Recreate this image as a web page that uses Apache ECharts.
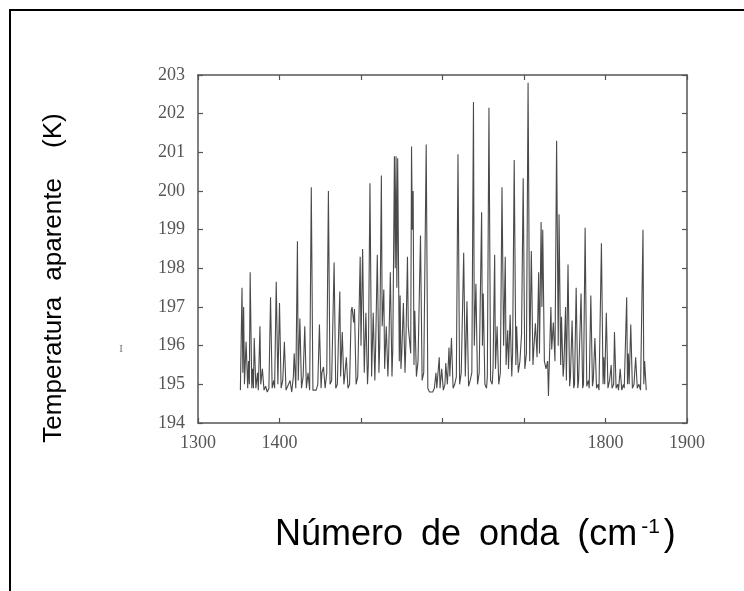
<!DOCTYPE html>
<html>
<head>
<meta charset="utf-8">
<script src="https://cdn.jsdelivr.net/npm/echarts@6/dist/echarts.min.js"></script>
<style>
  html, body { margin: 0; padding: 0; background: #fff; }
  #chart { width: 744px; height: 591px; }
</style>
</head>
<body>
<div id="chart"></div>
<script>
// spectrum: wavenumber (cm-1) and apparent temperature (K)
const wavenumber = [
  1352, 1354, 1355, 1356, 1357, 1359, 1361, 1362, 1363, 1364, 1366, 1367, 1368, 1369, 1371, 1373, 1374, 1376, 1377, 1379,
  1381, 1383, 1385, 1387, 1389, 1391, 1393, 1394, 1396, 1398, 1400, 1402, 1404, 1406, 1408, 1410, 1413, 1415, 1417, 1418,
  1420, 1422, 1423, 1425, 1427, 1429, 1431, 1433, 1435, 1437, 1439, 1441, 1443, 1445, 1447, 1449, 1451, 1452, 1454, 1456,
  1458, 1460, 1462, 1464, 1467, 1469, 1471, 1472, 1474, 1475, 1477, 1479, 1480, 1482, 1484, 1486, 1488, 1489, 1491, 1492,
  1494, 1496, 1499, 1500, 1502, 1504, 1506, 1508, 1509, 1511, 1513, 1515, 1517, 1518, 1520, 1522, 1523, 1525, 1526, 1528,
  1529, 1531, 1533, 1534, 1536, 1538, 1539, 1541, 1542, 1543, 1544, 1545, 1547, 1548, 1549, 1550, 1552, 1554, 1555, 1557,
  1558, 1561, 1562, 1563, 1564, 1565, 1566, 1568, 1570, 1573, 1575, 1577, 1580, 1582, 1584, 1588, 1590, 1592, 1593, 1595,
  1596, 1597, 1599, 1601, 1603, 1604, 1606, 1608, 1609, 1611, 1613, 1615, 1617, 1619, 1621, 1623, 1626, 1628, 1630, 1632,
  1634, 1636, 1638, 1639, 1641, 1643, 1645, 1648, 1649, 1650, 1652, 1654, 1655, 1657, 1659, 1661, 1662, 1664, 1665, 1667,
  1669, 1671, 1673, 1674, 1675, 1677, 1678, 1680, 1681, 1683, 1685, 1686, 1688, 1690, 1691, 1693, 1695, 1697, 1699, 1701,
  1703, 1705, 1707, 1709, 1711, 1712, 1714, 1716, 1718, 1719, 1721, 1722, 1723, 1725, 1727, 1729, 1730, 1731, 1733, 1734,
  1736, 1738, 1740, 1742, 1743, 1745, 1746, 1748, 1749, 1751, 1752, 1754, 1756, 1757, 1759, 1761, 1762, 1764, 1766, 1767,
  1770, 1772, 1773, 1775, 1777, 1779, 1780, 1782, 1784, 1785, 1787, 1789, 1791, 1792, 1795, 1797, 1798, 1799, 1801, 1803,
  1805, 1807, 1808, 1810, 1811, 1813, 1815, 1816, 1818, 1820, 1822, 1823, 1826, 1827, 1828, 1829, 1831, 1833, 1835, 1837,
  1839, 1841, 1843, 1846, 1847, 1848, 1850
];
const temperature = [
  194.85, 197.5, 195.3, 197.0, 195.0, 196.1, 194.9, 195.6, 195.0, 197.9, 194.9, 195.4, 194.9, 196.2, 194.9, 195.3, 194.85, 196.5, 195.0, 195.4,
  194.85, 194.95, 194.8, 194.9, 197.25, 194.9, 195.1, 194.9, 197.65, 195.0, 197.1, 194.9, 195.1, 196.1, 194.85, 194.8, 195.1, 194.8, 195.2, 195.8,
  194.9, 198.7, 195.1, 196.7, 194.9, 195.2, 196.5, 194.9, 195.3, 194.85, 200.1, 194.85, 194.8, 194.85, 195.0, 196.55, 194.9, 195.3, 195.45, 194.9,
  195.3, 200.0, 195.0, 195.1, 198.15, 194.9, 195.0, 195.9, 197.4, 195.2, 196.35, 195.0, 195.2, 195.7, 194.9, 195.0, 196.9, 197.0, 196.6, 196.95,
  195.0, 195.2, 198.3, 196.0, 198.5, 195.3, 196.85, 195.0, 195.5, 200.2, 195.2, 196.85, 195.1, 196.0, 198.35, 195.3, 196.0, 200.4, 196.5, 197.45,
  195.4, 196.5, 195.2, 195.8, 197.9, 195.2, 195.9, 200.9, 198.0, 200.9, 197.5, 200.85, 195.6, 197.3, 195.4, 195.8, 197.1, 195.3, 196.0, 198.3,
  196.5, 195.8, 201.15, 199.0, 200.0, 195.5, 196.9, 195.2, 195.6, 198.85, 195.1, 195.3, 201.2, 194.9, 194.8, 194.8, 194.9, 195.3, 194.9, 194.85,
  195.7, 194.9, 195.4, 194.85, 195.0, 195.55, 195.0, 195.95, 195.2, 196.2, 194.9, 195.0, 195.2, 200.95, 195.0, 195.3, 198.4, 195.2, 197.15, 194.95,
  195.1, 195.3, 202.3, 196.0, 197.6, 195.0, 195.3, 199.45, 196.0, 197.35, 195.0, 194.9, 195.2, 202.15, 195.1, 195.0, 195.4, 198.35, 195.4, 196.5,
  195.0, 195.3, 200.1, 198.05, 196.0, 198.3, 195.5, 196.4, 195.4, 196.8, 195.2, 195.8, 200.8, 195.5, 196.5, 195.3, 195.6, 196.3, 200.33, 195.4,
  195.8, 202.8, 195.6, 198.45, 195.5, 195.9, 196.58, 195.7, 197.9, 195.8, 199.2, 197.0, 199.0, 195.6, 195.4, 195.6, 194.7, 195.5, 197.0, 195.9,
  196.6, 195.6, 201.3, 196.0, 199.4, 195.5, 196.75, 195.2, 195.5, 197.0, 195.1, 198.1, 194.95, 195.2, 196.65, 194.9, 195.0, 197.5, 194.9, 195.1,
  197.35, 194.9, 195.0, 199.05, 194.95, 195.1, 194.9, 197.3, 194.95, 195.1, 196.2, 194.9, 195.0, 194.85, 198.65, 195.0, 195.7, 195.0, 196.85, 194.9,
  195.1, 195.5, 194.9, 195.0, 196.35, 194.9, 195.0, 194.85, 195.4, 194.85, 195.0, 194.9, 197.25, 195.0, 195.8, 195.0, 196.55, 194.9, 195.0, 195.7,
  194.9, 195.0, 194.85, 199.0, 195.0, 195.6, 194.85
];
// the 1500-1700 labels are hidden under a pasted white patch in the scan
const xTickLabels = [1300, 1400, 1800, 1900];
const yTitleWords = ['Temperatura', 'aparente', '(K)'];
const xTitleWords = ['Número', 'de', 'onda', '(cm', '-1', ')'];

const axisColor = '#555';
const tickFont = { fontFamily: 'Liberation Serif', fontSize: 18, color: '#555' };

function frameAxis(extra) {
  return Object.assign({
    type: 'value',
    axisLine: { show: true, onZero: false, lineStyle: { color: axisColor, width: 1.5 } },
    axisTick: { show: true, inside: true, length: 5, lineStyle: { color: axisColor, width: 1.2 } },
    splitLine: { show: false }
  }, extra);
}

const chart = echarts.init(document.getElementById('chart'));
chart.setOption({
  animation: false,
  backgroundColor: '#fff',
  grid: { left: 198, top: 75, right: 57, bottom: 168 },
  xAxis: [
    frameAxis({
      position: 'bottom', min: 1300, max: 1900, interval: 100,
      axisLabel: Object.assign({
        margin: 11, showMinLabel: true, showMaxLabel: true,
        formatter: v => (xTickLabels.indexOf(v) >= 0 ? String(v) : '')
      }, tickFont)
    }),
    frameAxis({ position: 'top', min: 1300, max: 1900, interval: 100, axisLabel: { show: false } })
  ],
  yAxis: [
    frameAxis({
      position: 'left', min: 194, max: 203, interval: 1,
      axisLabel: Object.assign({ margin: 13, showMinLabel: true, showMaxLabel: true }, tickFont)
    }),
    frameAxis({ position: 'right', min: 194, max: 203, interval: 1, axisLabel: { show: false } })
  ],
  series: [{
    type: 'line',
    data: wavenumber.map((w, i) => [w, temperature[i]]),
    showSymbol: false,
    lineStyle: { color: '#4a4a4a', width: 1.1 },
    silent: true
  }],
  graphic: [
    // outer frame of the slide
    { type: 'rect', shape: { x: 10, y: 10, width: 900, height: 900 },
      style: { fill: 'none', stroke: '#000', lineWidth: 2 } },
    { type: 'text', x: 54, y: 278, rotation: Math.PI / 2,
      style: {
        text: '{w|' + yTitleWords[0] + '}{v|' + yTitleWords[1] + '}{e|' + yTitleWords[2] + '}',
        align: 'center', verticalAlign: 'middle',
        rich: {
          w: { font: '26px "Liberation Sans"', fill: '#000', padding: [0, 16, 0, 0] },
          v: { font: '26px "Liberation Sans"', fill: '#000', padding: [0, 30, 0, 0] },
          e: { font: '26px "Liberation Sans"', fill: '#000' }
        }
      } },
    { type: 'text', x: 275, y: 535,
      style: {
        text: xTitleWords.slice(0, 3).map(w => '{w|' + w + '}').join('') +
          '{c|' + xTitleWords[3] + '}{s|' + xTitleWords[4] + '}{e|' + xTitleWords[5] + '}',
        verticalAlign: 'middle',
        rich: {
          w: { font: '36px "Liberation Sans"', fill: '#000', padding: [0, 18, 0, 0] },
          c: { font: '36px "Liberation Sans"', fill: '#000' },
          s: { font: '21px "Liberation Sans"', fill: '#000', verticalAlign: 'top', padding: [0, 4, 15, 4] },
          e: { font: '36px "Liberation Sans"', fill: '#000' }
        }
      } },
    { type: 'text', x: 121, y: 349,
      style: { text: 'I', font: '11px "Liberation Serif"', fill: '#777', align: 'center', verticalAlign: 'middle' } }
  ]
});
</script>
</body>
</html>
